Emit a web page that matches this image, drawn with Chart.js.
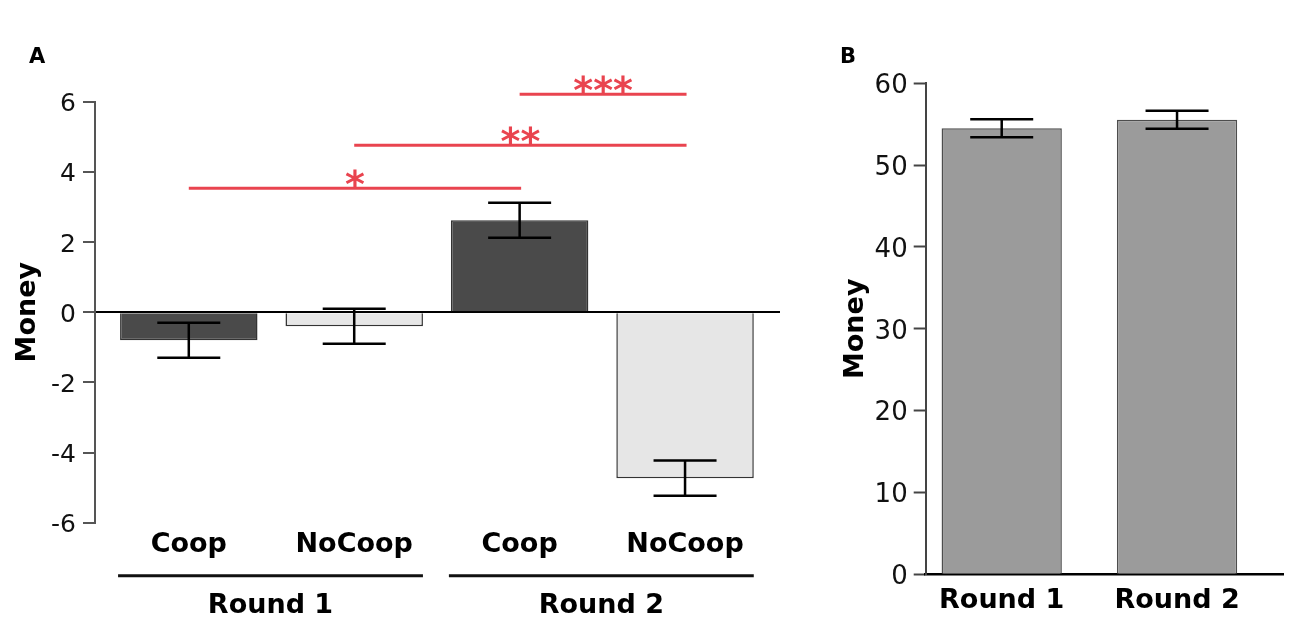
<!DOCTYPE html>
<html>
<head>
<meta charset="utf-8">
<script src="https://cdn.jsdelivr.net/npm/chart.js"></script>
<style>
  html, body { margin: 0; padding: 0; background: #fff; }
  #wrap { position: relative; width: 1300px; height: 632px; }
  #chartA { position: absolute; left: 0; top: 0; }
  #chartB { position: absolute; left: 820px; top: 0; }
</style>
</head>
<body>
<div id="wrap">
  <canvas id="chartA" width="820" height="632"></canvas>
  <canvas id="chartB" width="480" height="632"></canvas>
</div>
<script>
// Panel A: money change per condition and round
const conditions = ["Coop", "NoCoop", "Coop", "NoCoop"];
const moneyA = [-0.8, -0.4, 2.62, -4.73];
const errA = [0.5, 0.5, 0.5, 0.5];
const yTicksA = [-6, -4, -2, 0, 2, 4, 6];
const rounds = ["Round 1", "Round 2"];
const roundGroups = [[0, 1], [2, 3]];

// significance brackets (bar index from / to, height in Money, stars)
const sigFrom = [0, 1, 2];
const sigTo = [2, 3, 3];
const sigLevel = [3.53, 4.76, 6.21];
const sigStars = ["*", "**", "***"];

// Panel B: total money per round
const roundsB = ["Round 1", "Round 2"];
const moneyB = [54.5, 55.55];
const errB = [1.1, 1.1];
const yTicksB = [0, 10, 20, 30, 40, 50, 60];

Chart.defaults.font.family = "'DejaVu Sans', sans-serif";
Chart.defaults.color = "#111";

const RED = "#e9444f";

// error bars with caps
function errorBars(means, errs, capWidth) {
  return {
    id: "errorBars",
    afterDatasetsDraw(chart) {
      const { ctx, scales: { x, y } } = chart;
      ctx.save();
      ctx.strokeStyle = "#000";
      ctx.lineWidth = 2.5;
      means.forEach((m, i) => {
        const px = x.getPixelForValue(i);
        const top = y.getPixelForValue(m + errs[i]);
        const bot = y.getPixelForValue(m - errs[i]);
        ctx.beginPath();
        ctx.moveTo(px, top);
        ctx.lineTo(px, bot);
        ctx.moveTo(px - capWidth / 2, top);
        ctx.lineTo(px + capWidth / 2, top);
        ctx.moveTo(px - capWidth / 2, bot);
        ctx.lineTo(px + capWidth / 2, bot);
        ctx.stroke();
      });
      ctx.restore();
    }
  };
}

function panelLetter(letter, x, y) {
  return {
    id: "panelLetter",
    afterDraw(chart) {
      const ctx = chart.ctx;
      ctx.save();
      ctx.font = "bold 21px 'DejaVu Sans'";
      ctx.fillStyle = "#000";
      ctx.textAlign = "left";
      ctx.textBaseline = "alphabetic";
      ctx.fillText(letter, x, y);
      ctx.restore();
    }
  };
}

// significance lines and round grouping for panel A
const annotationsA = {
  id: "annotationsA",
  afterDraw(chart) {
    const { ctx, scales: { x, y }, chartArea } = chart;
    ctx.save();
    // significance
    ctx.strokeStyle = RED;
    ctx.fillStyle = RED;
    ctx.lineWidth = 3;
    ctx.font = "bold 38px 'DejaVu Sans'";
    ctx.textAlign = "center";
    ctx.textBaseline = "alphabetic";
    sigStars.forEach((s, k) => {
      const x1 = x.getPixelForValue(sigFrom[k]);
      const x2 = x.getPixelForValue(sigTo[k]) + 1.5;
      const yy = y.getPixelForValue(sigLevel[k]);
      ctx.beginPath();
      ctx.moveTo(x1, yy);
      ctx.lineTo(x2, yy);
      ctx.stroke();
      ctx.fillText(s, (x1 + x2) / 2, yy + 9);
    });
    // round groups
    const meta = chart.getDatasetMeta(0);
    ctx.strokeStyle = "#111";
    ctx.fillStyle = "#000";
    ctx.lineWidth = 3;
    ctx.font = "bold 27px 'DejaVu Sans'";
    ctx.textBaseline = "middle";
    roundGroups.forEach((g, k) => {
      const first = meta.data[g[0]];
      const last = meta.data[g[g.length - 1]];
      const x1 = first.x - first.width / 2 - 2;
      const x2 = last.x + last.width / 2;
      const yLine = chartArea.bottom + 53;
      ctx.beginPath();
      ctx.moveTo(x1, yLine);
      ctx.lineTo(x2, yLine);
      ctx.stroke();
      ctx.fillText(rounds[k], (x1 + x2) / 2, chartArea.bottom + 83);
    });
    ctx.restore();
  }
};

new Chart(document.getElementById("chartA"), {
  type: "bar",
  data: {
    datasets: [{
      data: moneyA.map((v, i) => ({ x: i, y: v })),
      backgroundColor: ["#4a4a4a", "#e6e6e6", "#4a4a4a", "#e6e6e6"],
      borderColor: "#333",
      borderWidth: 1.5,
      barPercentage: 1,
      categoryPercentage: 0.831
    }]
  },
  options: {
    responsive: false,
    animation: false,
    layout: { padding: { left: 0, top: 101.7, right: 40, bottom: 0 } },
    plugins: { legend: { display: false }, tooltip: { enabled: false } },
    scales: {
      x: {
        type: "linear",
        min: -0.567,
        max: 3.574,
        offset: false,
        grid: { display: false, drawTicks: false },
        border: { display: false },
        afterBuildTicks: ax => { ax.ticks = conditions.map((c, i) => ({ value: i })); },
        afterFit: ax => { ax.height = 109.3; },
        ticks: {
          callback: v => conditions[v],
          font: { size: 27, weight: "bold" },
          color: "#000",
          padding: 6,
          maxRotation: 0,
          autoSkip: false
        }
      },
      y: {
        min: -6,
        max: 6,
        afterBuildTicks: ax => { ax.ticks = yTicksA.map(v => ({ value: v })); },
        afterFit: ax => { ax.width = 95; },
        grid: {
          color: c => (c.tick && c.tick.value === 0 ? "#000" : "rgba(0,0,0,0)"),
          lineWidth: 2,
          tickColor: "#555",
          tickLength: 12,
          tickWidth: 2
        },
        border: { color: "#555", width: 2 },
        ticks: { font: { size: 25 }, color: "#111", padding: 7, labelOffset: 3 },
        title: {
          display: true,
          text: "Money",
          font: { size: 27, weight: "bold" },
          color: "#000",
          padding: { top: 12, bottom: 0 }
        }
      }
    }
  },
  plugins: [errorBars(moneyA, errA, 63), annotationsA, panelLetter("A", 29, 63)]
});

new Chart(document.getElementById("chartB"), {
  type: "bar",
  data: {
    datasets: [{
      data: moneyB.map((v, i) => ({ x: i, y: v })),
      backgroundColor: "#9b9b9b",
      borderColor: "#4d4d4d",
      borderWidth: 1.5,
      barPercentage: 1,
      categoryPercentage: 0.686
    }]
  },
  options: {
    responsive: false,
    animation: false,
    layout: { padding: { left: 0, top: 83.3, right: 16.7, bottom: 0 } },
    plugins: { legend: { display: false }, tooltip: { enabled: false } },
    scales: {
      x: {
        type: "linear",
        min: -0.4335,
        max: 1.606,
        offset: false,
        grid: { display: false, drawTicks: false },
        border: { display: true, color: "#000", width: 2.5 },
        afterBuildTicks: ax => { ax.ticks = roundsB.map((r, i) => ({ value: i })); },
        afterFit: ax => { ax.height = 57.7; },
        ticks: {
          callback: v => roundsB[v],
          font: { size: 27, weight: "bold" },
          color: "#000",
          padding: 10.5,
          maxRotation: 0,
          autoSkip: false
        }
      },
      y: {
        min: 0,
        max: 60,
        afterBuildTicks: ax => { ax.ticks = yTicksB.map(v => ({ value: v })); },
        afterFit: ax => { ax.width = 105.7; },
        grid: {
          drawOnChartArea: false,
          tickColor: "#444",
          tickLength: 12,
          tickWidth: 2
        },
        border: { color: "#444", width: 2 },
        ticks: { font: { size: 26 }, color: "#111", padding: 6, labelOffset: 3 },
        title: {
          display: true,
          text: "Money",
          font: { size: 27, weight: "bold" },
          color: "#000",
          padding: { top: 20, bottom: 0 }
        }
      }
    }
  },
  plugins: [errorBars(moneyB, errB, 63), panelLetter("B", 20, 63)]
});
</script>
</body>
</html>
